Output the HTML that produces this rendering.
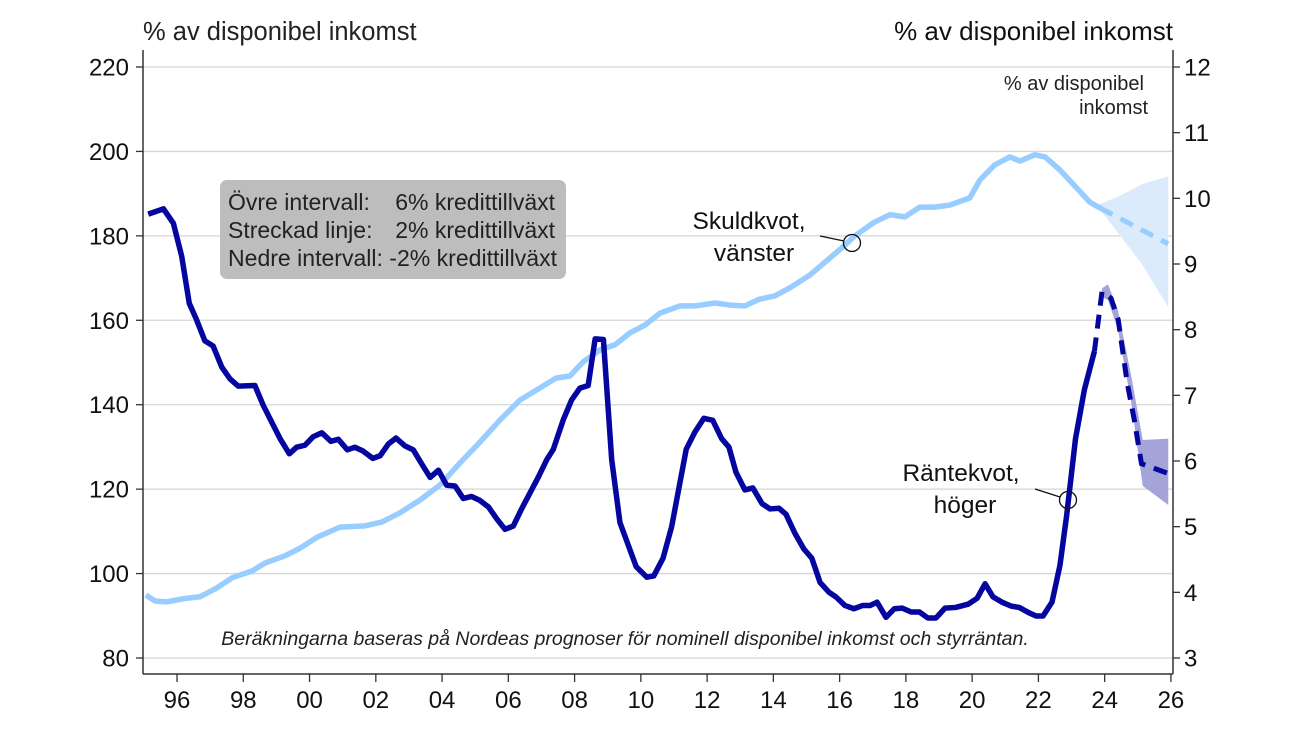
<!DOCTYPE html>
<html><head><meta charset="utf-8"><style>
body{margin:0;background:#fff;}
svg{display:block;font-family:"Liberation Sans",sans-serif;}
</style></head><body>
<svg id="chart" width="1300" height="731" viewBox="0 0 1300 731" xmlns="http://www.w3.org/2000/svg">
<g id="grid"></g>
<g id="bands"></g>
<g id="lines"></g>
<g id="axes"></g>
<text x="143" y="40" font-size="25.5" fill="#222">% av disponibel inkomst</text>
<text x="1173" y="40" font-size="26" fill="#111" text-anchor="end">% av disponibel inkomst</text>
<text x="1144" y="90" font-size="20" fill="#222" text-anchor="end">% av disponibel</text>
<text x="1148" y="114" font-size="20" fill="#222" text-anchor="end">inkomst</text>
<g>
<rect x="220" y="180" width="346" height="99" rx="7" fill="#bdbdbd"/>
<text x="228" y="210" font-size="23" fill="#222">Övre intervall:</text>
<text x="555" y="210" font-size="23" fill="#222" text-anchor="end">6% kredittillväxt</text>
<text x="228" y="238" font-size="23" fill="#222">Streckad linje:</text>
<text x="555" y="238" font-size="23" fill="#222" text-anchor="end">2% kredittillväxt</text>
<text x="228" y="266" font-size="23" fill="#222" textLength="329" lengthAdjust="spacingAndGlyphs">Nedre intervall: -2% kredittillväxt</text>
</g>
<g>
<text x="749" y="229" font-size="24.5" fill="#111" text-anchor="middle">Skuldkvot,</text>
<text x="754" y="261" font-size="24.5" fill="#111" text-anchor="middle">vänster</text>
<line x1="820" y1="236" x2="844" y2="241" stroke="#111" stroke-width="1.3"/>
<circle cx="852" cy="243" r="8.5" fill="none" stroke="#111" stroke-width="1.3"/>
</g>
<g>
<text x="961" y="481" font-size="24.5" fill="#111" text-anchor="middle">Räntekvot,</text>
<text x="965" y="513" font-size="24.5" fill="#111" text-anchor="middle">höger</text>
<line x1="1035" y1="489" x2="1060" y2="497" stroke="#111" stroke-width="1.3"/>
<circle cx="1068" cy="500" r="8.5" fill="none" stroke="#111" stroke-width="1.3"/>
</g>
<text x="625" y="645" font-size="19.5" font-style="italic" fill="#222" text-anchor="middle">Beräkningarna baseras på Nordeas prognoser för nominell disponibel inkomst och styrräntan.</text>
</svg>
<script>
const leftTicks=[80,100,120,140,160,180,200,220];
const rightTicks=[3,4,5,6,7,8,9,10,11,12];
const xTickYears=[1996,1998,2000,2002,2004,2006,2008,2010,2012,2014,2016,2018,2020,2022,2024,2026];
const xTickLabels=["96","98","00","02","04","06","08","10","12","14","16","18","20","22","24","26"];
const debtYears=[1995.06,1995.34,1995.7,1996.15,1996.69,1997.2,1997.66,1998.26,1998.66,1999.26,1999.71,2000.25,2000.92,2001.67,2002.18,2002.73,2003.33,2003.94,2004.54,2005.15,2005.75,2006.35,2006.96,2007.44,2007.86,2008.25,2008.77,2009.22,2009.67,2010.13,2010.58,2011.18,2011.63,2012.24,2012.69,2013.14,2013.58,2014.05,2014.5,2015.1,2015.56,2016.0,2016.46,2017.06,2017.52,2017.97,2018.42,2018.87,2019.33,2019.93,2020.23,2020.68,2021.14,2021.44,2021.89,2022.2,2022.65,2023.1,2023.55,2023.86];
const debtValues=[94.9,93.5,93.3,94,94.5,96.6,99,100.6,102.5,104.2,106,108.7,111,111.3,112.2,114.4,117.4,121,126.2,131.2,136.4,141.1,144,146.3,146.8,150.1,153,154.2,157,158.9,161.7,163.4,163.4,164.1,163.6,163.4,165,165.8,167.7,170.7,173.8,176.7,180,183.3,185,184.5,186.8,186.8,187.3,189,193.2,196.8,198.7,197.7,199.2,198.7,195.6,191.8,188,186.6];
const debtFcYears=[2023.86,2025.92];
const debtFcValues=[186.6,178.1];
const debtBandYears=[2023.76,2024.46,2025.11,2025.92];
const debtBandUpper=[187.2,189.5,192.2,194.1];
const debtBandLower=[187.2,180.1,173.5,163.1];
const rateYears=[1995.13,1995.59,1995.89,1996.14,1996.37,1996.59,1996.84,1997.09,1997.35,1997.6,1997.85,1998.35,1998.6,1999.11,1999.39,1999.61,1999.86,2000.11,2000.37,2000.64,2000.87,2001.14,2001.37,2001.62,2001.91,2002.13,2002.38,2002.61,2002.88,2003.13,2003.38,2003.64,2003.89,2004.14,2004.39,2004.64,2004.89,2005.14,2005.4,2005.65,2005.9,2006.15,2006.4,2006.65,2006.9,2007.16,2007.36,2007.66,2007.91,2008.16,2008.41,2008.62,2008.87,2009.12,2009.37,2009.86,2010.18,2010.39,2010.67,2010.93,2011.15,2011.37,2011.63,2011.9,2012.17,2012.44,2012.66,2012.87,2013.14,2013.38,2013.66,2013.9,2014.17,2014.38,2014.65,2014.92,2015.16,2015.41,2015.68,2015.89,2016.16,2016.43,2016.7,2016.92,2017.13,2017.4,2017.65,2017.89,2018.16,2018.41,2018.66,2018.91,2019.18,2019.5,2019.88,2020.15,2020.39,2020.63,2020.9,2021.18,2021.42,2021.71,2021.93,2022.14,2022.41,2022.65,2022.85,2023.12,2023.39,2023.69];
const rateValues=[9.76,9.84,9.62,9.12,8.40,8.15,7.83,7.75,7.43,7.25,7.14,7.15,6.85,6.34,6.11,6.21,6.24,6.37,6.43,6.30,6.33,6.17,6.21,6.15,6.04,6.08,6.26,6.35,6.23,6.17,5.96,5.75,5.86,5.63,5.62,5.43,5.46,5.40,5.30,5.12,4.96,5.01,5.27,5.51,5.75,6.02,6.18,6.63,6.93,7.11,7.15,7.86,7.85,6.02,5.06,4.39,4.23,4.25,4.52,5.00,5.59,6.18,6.44,6.65,6.62,6.34,6.21,5.83,5.56,5.59,5.35,5.27,5.28,5.19,4.90,4.66,4.52,4.15,4.00,3.93,3.80,3.75,3.80,3.80,3.85,3.62,3.75,3.76,3.70,3.70,3.61,3.61,3.76,3.77,3.82,3.91,4.13,3.93,3.85,3.79,3.77,3.69,3.64,3.64,3.85,4.41,5.16,6.34,7.09,7.67];
const rateFcYears=[2023.69,2023.92,2024.19,2024.41,2024.68,2024.9,2025.11,2025.54,2025.92];
const rateFcValues=[7.67,8.58,8.48,8.15,7.19,6.61,5.96,5.88,5.81];
const rateBandYears=[2023.92,2024.1,2024.4,2024.8,2025.15,2025.92];
const rateBandUpper=[8.63,8.69,8.3,7.3,6.32,6.34];
const rateBandLower=[8.5,8.45,8.0,6.9,5.62,5.33];

const NS="http://www.w3.org/2000/svg";
const X0=143.9,XS=33.13;
function xS(y){return X0+(y-1995)*XS;}
function yL(v){return 658-(v-80)*(591/140);}
function yR(v){return 658-(v-3)*(591/9);}
function mk(tag,attrs,parent){const e=document.createElementNS(NS,tag);for(const k in attrs)e.setAttribute(k,attrs[k]);parent.appendChild(e);return e;}
const grid=document.getElementById('grid'),axes=document.getElementById('axes'),bands=document.getElementById('bands'),lines=document.getElementById('lines');
leftTicks.forEach(v=>{
  const l=mk('line',{x1:143,x2:1173,y1:yL(v),y2:yL(v),stroke:'#d6d6d6','stroke-width':1.3},grid);
  
  
  const tk=mk('line',{x1:136,x2:143,y1:yL(v),y2:yL(v),stroke:'#333','stroke-width':1.3},axes);
  
  
  const t=mk('text',{x:129,y:yL(v)+8.5,'font-size':24,'text-anchor':'end',fill:'#111'},axes);
  t.textContent=v;
  
  
});
rightTicks.forEach(v=>{
  const tk=mk('line',{x1:1173,x2:1180,y1:yR(v),y2:yR(v),stroke:'#333','stroke-width':1.3},axes);
  
  
  const t=mk('text',{x:1184,y:yR(v)+8.5,'font-size':24,fill:'#111'},axes);
  t.textContent=v;
  
  
});
xTickYears.forEach((y,i)=>{
  const tk=mk('line',{x1:xS(y),x2:xS(y),y1:674,y2:682,stroke:'#333','stroke-width':1.3},axes);
  
  
  const t=mk('text',{x:xS(y),y:708,'font-size':24,'text-anchor':'middle',fill:'#111'},axes);
  t.textContent=xTickLabels[i];
  
  
});
const la=mk('line',{x1:143,x2:143,y1:50,y2:674,stroke:'#333','stroke-width':1.5},axes);


const ra=mk('line',{x1:1173,x2:1173,y1:50,y2:674,stroke:'#333','stroke-width':1.5},axes);


const ba=mk('line',{x1:143,x2:1173,y1:674,y2:674,stroke:'#333','stroke-width':1.5},axes);



function bandPath(ys,up,lo,f){let d='';ys.forEach((y,i)=>{d+=(i?'L':'M')+xS(y)+','+f(up[i]);});for(let i=ys.length-1;i>=0;i--)d+='L'+xS(ys[i])+','+f(lo[i]);return d+'Z';}
function linePath(ys,vs,f){return ys.map((y,i)=>(i?'L':'M')+xS(y)+','+f(vs[i])).join('');}
const b1=mk('path',{d:bandPath(debtBandYears,debtBandUpper,debtBandLower,yL),fill:'#dcebfc'},bands);


const b2=mk('path',{d:bandPath(rateBandYears,rateBandUpper,rateBandLower,yR),fill:'#a4a4d8'},bands);


const l1=mk('path',{d:linePath(debtYears,debtValues,yL),fill:'none',stroke:'#99ccff','stroke-width':5.5,'stroke-linejoin':'round'},lines);


const l1f=mk('path',{d:linePath(debtFcYears,debtFcValues,yL),fill:'none',stroke:'#99ccff','stroke-width':5,'stroke-dasharray':'14,9'},lines);


const l2=mk('path',{d:linePath(rateYears,rateValues,yR),fill:'none',stroke:'#0505a0','stroke-width':5.5,'stroke-linejoin':'round'},lines);


const l2f=mk('path',{d:linePath(rateFcYears,rateFcValues,yR),fill:'none',stroke:'#0505a0','stroke-width':5,'stroke-dasharray':'14,9'},lines);


</script>
</body></html>
